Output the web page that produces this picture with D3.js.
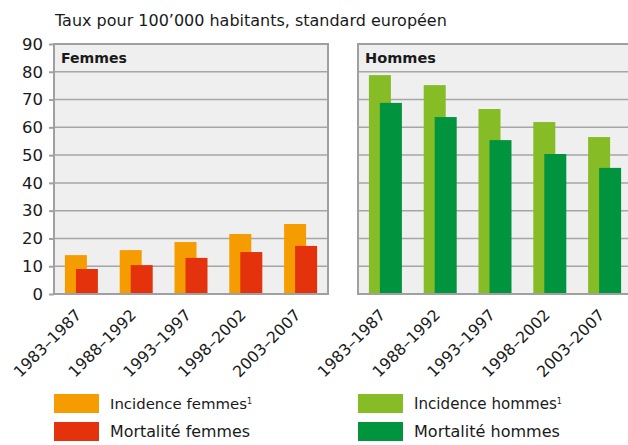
<!DOCTYPE html>
<html>
<head>
<meta charset="utf-8">
<script src="https://cdn.jsdelivr.net/npm/d3@7"></script>
<style>
  body { margin: 0; background: #fff; }
  text { font-family: "DejaVu Sans", sans-serif; fill: #1a1a1a; }
</style>
</head>
<body>
<div id="chart"></div>
<script>
"use strict";

const width = 628;
const height = 445;

// data
const periods = ["1983–1987", "1988–1992", "1993–1997", "1998–2002", "2003–2007"];
const incidenceFemmes = [14.0, 15.8, 18.7, 21.6, 25.2];
const mortaliteFemmes = [9.0, 10.4, 13.0, 15.1, 17.3];
const incidenceHommes = [78.8, 75.2, 66.6, 61.9, 56.5];
const mortaliteHommes = [68.8, 63.7, 55.4, 50.4, 45.4];
const yTicks = [0, 10, 20, 30, 40, 50, 60, 70, 80, 90];

const colors = {
    incF: "#f59c00", morF: "#e3320c",
    incH: "#86bc25", morH: "#00943f"
};

const svg = d3.select("#chart").append("svg")
    .attr("width", width)
    .attr("height", height);

// scale a text's font so that it spans the given width
function fitWidth(sel, w) {
    const fs = parseFloat(sel.style("font-size"));
    const len = sel.node().getComputedTextLength();
    const size = fs * w / len;
    sel.style("font-size", size + "px");
    return size;
}

// title
const title = svg.append("text")
    .attr("x", 55).attr("y", 26)
    .style("font-size", "14px")
    .text("Taux pour 100’000 habitants, standard européen");
fitWidth(title, 392);

const y = d3.scaleLinear().domain([0, 90]).range([294, 44]);

const panels = [
    { name: "Femmes", x0: 54, inc: incidenceFemmes, mor: mortaliteFemmes, ci: colors.incF, cm: colors.morF, axis: true, nameW: 66 },
    { name: "Hommes", x0: 358, inc: incidenceHommes, mor: mortaliteHommes, ci: colors.incH, cm: colors.morH, axis: false, nameW: 71 }
];
const panelW = 274;

// size of the category labels, from the width of one label
const probe = svg.append("text").style("font-size", "14px").text(periods[0]);
const labelSize = fitWidth(probe, 88);
probe.remove();

panels.forEach(p => {
    const g = svg.append("g");
    const x = d3.scaleBand().domain(periods).range([p.x0, p.x0 + panelW]);

    g.append("rect")
        .attr("x", p.x0).attr("y", y(90))
        .attr("width", panelW).attr("height", y(0) - y(90))
        .attr("fill", "#efefef");

    // grid lines
    g.selectAll(".grid")
        .data(yTicks.slice(1, -1))
        .enter().append("line")
        .attr("x1", p.x0).attr("x2", p.x0 + panelW)
        .attr("y1", d => y(d)).attr("y2", d => y(d))
        .attr("stroke", "#a6a6a6")
        .attr("stroke-width", 1.5);

    // bars
    const bw = 22;
    g.selectAll(".inc")
        .data(p.inc)
        .enter().append("rect")
        .attr("x", (d, i) => x(periods[i]) + x.bandwidth() / 2 - 16.5)
        .attr("y", d => y(d))
        .attr("width", bw)
        .attr("height", d => y(0) - y(d))
        .attr("fill", p.ci);
    g.selectAll(".mor")
        .data(p.mor)
        .enter().append("rect")
        .attr("x", (d, i) => x(periods[i]) + x.bandwidth() / 2 - 5.5)
        .attr("y", d => y(d))
        .attr("width", bw)
        .attr("height", d => y(0) - y(d))
        .attr("fill", p.cm);

    // frame
    g.append("rect")
        .attr("x", p.x0).attr("y", y(90))
        .attr("width", panelW).attr("height", y(0) - y(90))
        .attr("fill", "none")
        .attr("stroke", "#a0a0a0")
        .attr("stroke-width", 2);

    const name = g.append("text")
        .attr("x", p.x0 + 7).attr("y", y(90) + 19)
        .style("font-size", "14px")
        .style("font-weight", "bold")
        .text(p.name);
    fitWidth(name, p.nameW);

    // rotated category labels
    g.selectAll(".lab")
        .data(periods)
        .enter().append("text")
        .attr("transform", d => "translate(" + (x(d) + x.bandwidth() / 2 + 1) + ",316) rotate(-45)")
        .attr("text-anchor", "end")
        .style("font-size", labelSize + "px")
        .text(d => d);

    if (p.axis) {
        const axis = d3.axisLeft(y).tickValues(yTicks).tickSize(5).tickPadding(6);
        const ag = svg.append("g")
            .attr("transform", "translate(" + p.x0 + ",0)")
            .call(axis);
        ag.select(".domain").remove();
        ag.selectAll(".tick line").attr("stroke", "#a0a0a0").attr("stroke-width", 2);
        const tt = ag.selectAll(".tick text")
            .style("font-family", "'DejaVu Sans', sans-serif")
            .style("font-size", "16px")
            .attr("fill", "#1a1a1a");
        const s = fitWidth(ag.select(".tick:last-of-type text"), 21);
        tt.style("font-size", s + "px");
    }
});

// legend
const legendItems = [
    { label: "Incidence femmes", sup: true, color: colors.incF, x: 54, y: 394, w: 137 },
    { label: "Mortalité femmes", sup: false, color: colors.morF, x: 54, y: 422, w: 140 },
    { label: "Incidence hommes", sup: true, color: colors.incH, x: 358, y: 394, w: 143 },
    { label: "Mortalité hommes", sup: false, color: colors.morH, x: 358, y: 422, w: 146 }
];
const lg = svg.append("g");
legendItems.forEach(l => {
    lg.append("rect")
        .attr("x", l.x).attr("y", l.y)
        .attr("width", 45).attr("height", 19)
        .attr("fill", l.color);
    const t = lg.append("text")
        .attr("x", l.x + 56).attr("y", l.y + 15)
        .style("font-size", "15px")
        .text(l.label);
    fitWidth(t, l.w);
    if (l.sup) {
        t.append("tspan")
            .attr("dy", -5)
            .style("font-size", "8px")
            .text("1");
    }
});
</script>
</body>
</html>
